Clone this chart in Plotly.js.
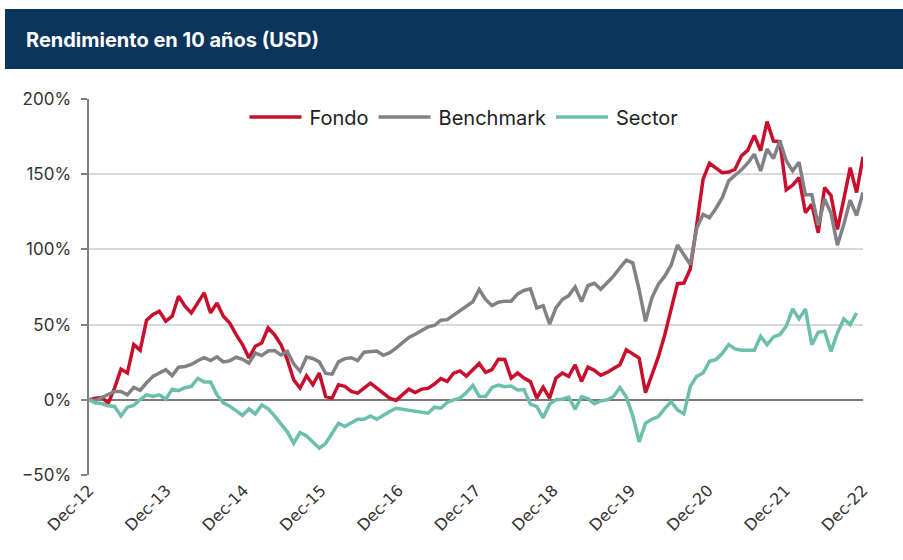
<!DOCTYPE html>
<html><head><meta charset="utf-8">
<script src="https://cdn.plot.ly/plotly-3.0.1.min.js"></script>
<style>html,body{margin:0;padding:0;background:#fff;} #chart{width:903px;height:560px;}</style>
</head><body><div id="chart"></div>
<script>
// Monthly categories, Dec-12 onwards (122 observations)
const monthNames = ['Jan','Feb','Mar','Apr','May','Jun','Jul','Aug','Sep','Oct','Nov','Dec'];
const months = [];
for (let k = 0; k < 122; k++) {
  const m = (11 + k) % 12;
  const y = 12 + Math.floor((11 + k) / 12);
  months.push(monthNames[m] + '-' + y);
}
const tickLabels = ['Dec-12','Dec-13','Dec-14','Dec-15','Dec-16','Dec-17','Dec-18','Dec-19','Dec-20','Dec-21','Dec-22'];

const fondo = [0,1.1,1.5,-2.2,7.8,20.4,17.8,36.7,33,53,56.7,58.9,52.2,55.6,68.9,62.2,57.8,64.4,71.1,57.8,
64.4,55.6,51.1,43.3,36.7,27.8,35.6,37.8,47.8,43.3,36.7,26.7,13.3,7.8,16,10,17.8,2.2,1.1,10,
8.9,5.6,4.4,7.8,11.1,7.8,4.4,1.1,-0.4,3.3,7.1,4.9,7.1,7.6,10.5,14.1,12.2,17.7,19.2,15.8,
20,24.2,18.2,20,27,26.8,14.4,17.8,14.4,12.1,1.1,8.4,1.1,14.4,17.8,15.6,23.3,12.2,21.7,19.6,
16.3,18.2,20.8,23.3,33.2,30.5,27.8,4.7,16.2,28.5,43,60,77.2,77.6,87,116,146.7,157.3,154.4,151,
151.4,153.3,162.2,166,175.8,165.6,185,172,171.7,139.6,142.7,147.8,124.4,130,111,141.1,135.8,113.3,133.5,154.4,
137.8,161.6];

const benchmark = [0,-0.5,1.5,3.3,5.6,5.6,3.3,8.3,6.3,11.3,15.6,17.8,20,16.1,21.7,22.2,23.5,26,28,26.1,
28.6,25.2,25.9,28.3,26.9,24.4,31.1,29.4,32.4,32.7,29.8,32.2,23.9,18.9,28.4,27.5,25.2,17.5,17,25.2,
27.4,28,26.1,31.6,32,32.4,29.6,31.3,34.4,37.8,41.5,43.6,45.9,48.5,49.4,52.9,53.3,56.3,59.4,62.8,
65.2,73.3,66.7,62.6,64.9,65.6,65.6,70.4,72.7,73.8,61.1,62.6,50.4,61.1,66.7,69.3,75,65.3,76,77.5,
73.5,77.8,82.2,87.8,92.9,91.1,73.3,52.2,67.8,76.7,82.2,89.5,102.9,96.5,90,114,123.3,121.1,127.2,134.4,
145.6,149.3,152.9,157.5,163.3,152.2,166.7,160.4,172.2,158.9,152.2,158,136.3,136.3,116,133.5,124,102.8,116.7,132.8,
122.5,137.8];

const sector = [0,-2.2,-2.5,-4,-4.4,-10.7,-4.9,-3.7,0.2,3.3,2.2,3.3,0.4,7.1,6.1,8,8.9,14.2,11.9,11.9,
3.3,-2,-4.2,-7.6,-10.4,-6,-9.4,-3.5,-5.9,-10.7,-16,-21.3,-28.9,-21.8,-24,-27.8,-32.2,-28.9,-22.2,-15.6,
-17.8,-15.1,-12.9,-12.9,-10.7,-12.9,-10,-7.8,-5.6,-6.2,-6.7,-7.3,-8.2,-8.9,-4.9,-5.6,-1.8,0,1.1,4.8,
9.5,2.4,2.2,8.2,9.8,8.7,9.2,6.5,6.8,-2.9,-4.6,-12,-2.9,0,0.4,1.8,-6.2,2,0.8,-2.6,
-0.8,0,2.2,8.2,1.8,-10.5,-28,-15.6,-12.9,-11.1,-5.9,-1.3,-6.7,-9.3,8.9,15.6,17.8,25.6,26.7,30.7,
36.7,33.8,32.9,32.9,32.9,42.2,36.7,41.8,43.3,48.9,60.4,53.8,60.4,36.7,44.9,45.6,32.2,44.4,53.8,50,
57.8];

const seriesNames = ['Fondo','Benchmark','Sector'];
const seriesColors = ['#C8102E','#828286','#6CBFAD'];
const seriesData = [fondo, benchmark, sector];

const traces = seriesData.map((d, i) => ({
  type: 'scatter', mode: 'lines',
  name: seriesNames[i],
  x: months.slice(0, d.length),
  y: d,
  line: {color: seriesColors[i], width: 3.5, shape: 'linear'},
  hoverinfo: 'skip'
}));

const fontFam = 'Inter, "Open Sans", sans-serif';
const pxToPaperY = (py) => (475 - py) / 376;
const pxToPaperX = (px) => (px - 89) / 774;
const lastIdx = months.length - 1;
const tickPos = tickLabels.map((_, k) => k * lastIdx / (tickLabels.length - 1));

const layout = {
  width: 903, height: 560,
  margin: {l: 89, r: 40, t: 99, b: 85},
  paper_bgcolor: '#fff', plot_bgcolor: '#fff',
  showlegend: true,
  legend: {
    orientation: 'h', x: pxToPaperX(464), xanchor: 'center',
    y: pxToPaperY(117), yanchor: 'middle',
    font: {family: fontFam, size: 20, color: '#222'},
    bgcolor: 'rgba(0,0,0,0)', itemwidth: 55, tracegroupgap: 0
  },
  title: {
    text: '<b>Rendimiento en 10 años (USD)</b>',
    x: 26/903, xanchor: 'left', xref: 'container',
    y: 1 - 40/560, yanchor: 'middle', yref: 'container',
    font: {family: fontFam, size: 20, color: '#ffffff'}
  },
  shapes: [{
    type: 'rect', xref: 'paper', yref: 'paper', layer: 'below',
    x0: pxToPaperX(5), x1: pxToPaperX(903), y0: pxToPaperY(69), y1: pxToPaperY(9),
    fillcolor: '#0C355E', line: {width: 0}
  }],
  xaxis: {
    type: 'category', range: [0, lastIdx], tickvals: tickPos, ticktext: tickLabels,
    tickangle: -45, showgrid: false, zeroline: false, showline: false, ticks: '',
    tickfont: {family: '"DejaVu Sans", sans-serif', size: 16, color: '#333'},
    ticklabelstandoff: 2, fixedrange: true
  },
  yaxis: {
    range: [-50, 200], tick0: 0, dtick: 50, ticksuffix: '%',
    showgrid: true, gridcolor: '#d9d9d9', gridwidth: 2,
    zeroline: true, zerolinecolor: '#7a7a7a', zerolinewidth: 2.5,
    showline: true, linecolor: '#7f7f7f', linewidth: 2.5,
    ticks: 'outside', ticklen: 6, tickwidth: 2, tickcolor: '#7f7f7f',
    tickfont: {family: fontFam, size: 17, color: '#333'},
    ticklabelstandoff: 6, fixedrange: true
  }
};

Plotly.newPlot('chart', traces, layout, {displayModeBar: false, staticPlot: true}).then(gd => {
  // lengthen the legend line samples to match the reference key
  gd.querySelectorAll('.legendlines path').forEach(p => p.setAttribute('d', 'M5,0h52'));
});
</script></body></html>
